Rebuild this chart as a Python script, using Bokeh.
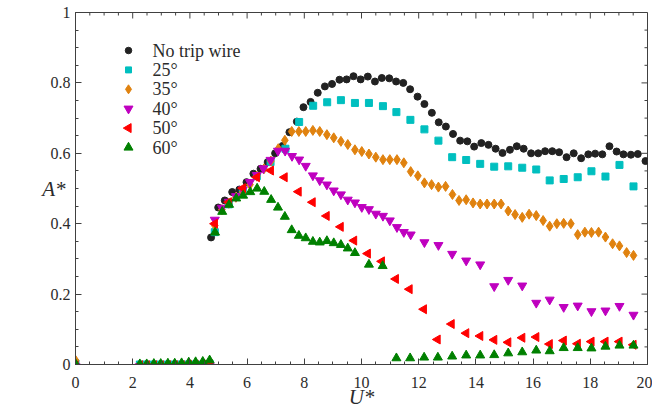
import math
from bokeh.plotting import figure
from bokeh.models import Range1d, FixedTicker, ColumnDataSource
from bokeh.core.properties import value
from bokeh.embed import file_html
from bokeh.resources import INLINE

# ---------------- data ----------------
zero_x = [0, 2.25, 2.49, 2.74, 2.98, 3.23, 3.47, 3.71, 3.96, 4.20, 4.45, 4.69]

notrip_x = [4.74, 4.99, 5.22, 5.48, 5.73, 5.98, 6.22, 6.47, 6.72, 6.98, 7.24, 7.48, 7.74, 7.97, 8.22,
            8.47, 8.72, 8.97, 9.23, 9.48, 9.72, 9.97, 10.22, 10.47, 10.71, 10.97, 11.21, 11.46, 11.70,
            11.96, 12.20, 12.46, 12.70, 12.95, 13.20, 13.45, 13.70, 13.94, 14.19, 14.44, 14.69, 14.93,
            15.19, 15.43, 15.67, 15.93, 16.18, 16.42, 16.67, 16.91, 17.17, 17.42, 17.68, 17.93, 18.17,
            18.42, 18.67, 18.92, 19.16, 19.42, 19.66, 19.93]
notrip_y = [0.361, 0.446, 0.466, 0.490, 0.497, 0.518, 0.542, 0.556, 0.575, 0.600, 0.621, 0.660, 0.690,
            0.731, 0.746, 0.772, 0.790, 0.797, 0.809, 0.810, 0.819, 0.810, 0.818, 0.804, 0.814, 0.813,
            0.804, 0.800, 0.782, 0.761, 0.740, 0.715, 0.688, 0.676, 0.655, 0.636, 0.634, 0.619, 0.629,
            0.624, 0.613, 0.601, 0.610, 0.620, 0.613, 0.600, 0.600, 0.606, 0.606, 0.603, 0.589, 0.600,
            0.586, 0.597, 0.599, 0.597, 0.620, 0.605, 0.597, 0.596, 0.598, 0.578]
notrip_zero = [0, 0, 0, 0, 0, 0, 0, 0, 0, 0, 0, 0]

deg25_x = [4.87, 5.36, 5.85, 6.34, 6.82, 7.34, 7.82, 8.31, 8.80, 9.28, 9.77, 10.26, 10.75, 11.22, 11.71,
           12.20, 12.69, 13.17, 13.66, 14.15, 14.64, 15.13, 15.62, 16.11, 16.58, 17.07, 17.56, 18.04,
           18.53, 19.02, 19.51]
deg25_y = [0.376, 0.455, 0.495, 0.535, 0.575, 0.613, 0.689, 0.735, 0.745, 0.751, 0.743, 0.743, 0.734,
           0.717, 0.695, 0.668, 0.636, 0.589, 0.581, 0.570, 0.562, 0.563, 0.559, 0.554, 0.523, 0.527,
           0.532, 0.549, 0.534, 0.567, 0.506]
deg25_zero = [0.003, 0, 0, 0, 0, 0, 0, 0, 0, 0, 0, 0.002]

deg35_x = [4.87, 5.12, 5.36, 5.61, 5.85, 6.10, 6.34, 6.59, 6.83, 7.09, 7.32, 7.56, 7.81, 8.05, 8.30, 8.54,
           8.79, 9.03, 9.28, 9.52, 9.77, 10.01, 10.26, 10.50, 10.75, 10.99, 11.24, 11.48, 11.72, 11.97,
           12.20, 12.45, 12.69, 12.94, 13.18, 13.41, 13.66, 13.90, 14.15, 14.39, 14.64, 14.88, 15.13,
           15.37, 15.62, 15.86, 16.11, 16.35, 16.58, 16.83, 17.07, 17.32, 17.56, 17.81, 18.04, 18.29,
           18.53, 18.78, 19.02, 19.27, 19.51]
deg35_y = [0.395, 0.440, 0.458, 0.475, 0.490, 0.511, 0.535, 0.556, 0.578, 0.613, 0.637, 0.662, 0.662,
           0.662, 0.665, 0.662, 0.653, 0.644, 0.634, 0.625, 0.610, 0.605, 0.598, 0.589, 0.582, 0.582,
           0.582, 0.573, 0.548, 0.536, 0.516, 0.511, 0.504, 0.506, 0.483, 0.466, 0.468, 0.459, 0.456,
           0.456, 0.456, 0.456, 0.436, 0.426, 0.418, 0.427, 0.423, 0.409, 0.393, 0.400, 0.401, 0.400,
           0.369, 0.376, 0.375, 0.376, 0.362, 0.343, 0.337, 0.318, 0.310]
deg35_zero = [0.012, -0.004, -0.004, -0.004, -0.004, -0.004, -0.004, -0.004, -0.003, -0.003, -0.003, -0.002]

deg40_x = [4.87, 5.12, 5.36, 5.61, 5.85, 6.10, 6.34, 6.57, 6.82, 7.08, 7.33, 7.57, 7.82, 8.05, 8.30, 8.54,
           8.79, 9.03, 9.28, 9.52, 9.77, 10.01, 10.26, 10.50, 10.75, 10.99, 11.24, 11.48, 11.72, 12.20,
           12.69, 13.17, 13.66, 14.15, 14.64, 15.13, 15.62, 16.11, 16.58, 17.07, 17.56, 18.04, 18.53,
           19.02, 19.51]
deg40_y = [0.411, 0.445, 0.462, 0.478, 0.497, 0.518, 0.538, 0.557, 0.581, 0.607, 0.607, 0.592, 0.582,
           0.564, 0.537, 0.523, 0.511, 0.494, 0.483, 0.468, 0.460, 0.447, 0.441, 0.428, 0.422, 0.409,
           0.390, 0.376, 0.369, 0.347, 0.339, 0.314, 0.295, 0.284, 0.222, 0.240, 0.224, 0.175, 0.184,
           0.163, 0.167, 0.151, 0.153, 0.166, 0.141]
deg40_zero = [-0.005, -0.005, -0.005, -0.005, -0.005, -0.005, -0.005, -0.005, -0.004, -0.004, -0.004, -0.003]

deg50_x = [4.87, 5.36, 5.85, 6.34, 6.83, 7.31, 7.80, 8.29, 8.78, 9.27, 9.74, 10.22, 10.71, 11.20, 11.68,
           12.18, 12.66, 13.15, 13.66, 14.15, 14.64, 15.13, 15.62, 16.11, 16.58, 17.07, 17.56, 18.04,
           18.53, 19.02, 19.51]
deg50_y = [0.400, 0.461, 0.501, 0.532, 0.551, 0.532, 0.491, 0.461, 0.422, 0.391, 0.352, 0.315, 0.293,
           0.243, 0.214, 0.157, 0.071, 0.115, 0.089, 0.081, 0.070, 0.063, 0.076, 0.078, 0.058, 0.068,
           0.059, 0.065, 0.065, 0.065, 0.056]
deg50_zero = [-0.003, -0.002, -0.002, -0.002, -0.002, -0.002, -0.002, -0.002, -0.001, -0.001, 0.0, 0.001]

deg60_x = [4.88, 5.13, 5.37, 5.62, 5.86, 6.11, 6.35, 6.60, 6.84, 7.08, 7.32, 7.56, 7.81, 8.05, 8.30, 8.54,
           8.79, 9.03, 9.28, 9.52, 9.77, 10.26, 10.74, 11.22, 11.70, 12.19, 12.67, 13.17, 13.66, 14.15,
           14.64, 15.13, 15.62, 16.11, 16.58, 17.07, 17.56, 18.04, 18.53, 19.02, 19.51]
deg60_y = [0.375, 0.434, 0.454, 0.472, 0.480, 0.490, 0.500, 0.491, 0.468, 0.446, 0.420, 0.382, 0.366,
           0.359, 0.349, 0.347, 0.351, 0.345, 0.340, 0.330, 0.317, 0.284, 0.280, 0.018, 0.018, 0.020,
           0.020, 0.023, 0.026, 0.026, 0.027, 0.032, 0.035, 0.040, 0.038, 0.047, 0.047, 0.046, 0.051,
           0.054, 0.054]
deg60_zero = [0.002, 0.001, 0.001, 0.002, 0.002, 0.003, 0.003, 0.004, 0.006, 0.007, 0.008, 0.012]

series_labels = ["No trip wire", "25°", "35°", "40°", "50°", "60°"]

x_ticks = [0, 2, 4, 6, 8, 10, 12, 14, 16, 18, 20]
y_ticks = [0, 0.2, 0.4, 0.6, 0.8, 1]
y_tick_labels = ["0", "0.2", "0.4", "0.6", "0.8", "1"]

# ---------------- figure ----------------
FONT = "Liberation Serif"
AX = "#404040"
TXT = "#2b2b2b"

W, H = 652, 415
ML, MR, MT, MB = 75, 5, 12, 51
FW, FH = W - ML - MR, H - MT - MB

p = figure(width=W, height=H, output_backend="svg", toolbar_location=None,
           x_range=Range1d(0, 20), y_range=Range1d(0, 1),
           min_border_left=ML, min_border_right=MR, min_border_top=MT, min_border_bottom=MB,
           x_axis_label="U*", y_axis_label="A*")
p.grid.visible = False
p.outline_line_color = AX
p.outline_line_width = 1
p.background_fill_color = "white"
p.border_fill_color = "white"

x_minor = [v * 0.5 for v in range(41)]
y_minor = [round(v * 0.05, 2) for v in range(21)]

for ax in (p.xaxis[0], p.yaxis[0]):
    ax.axis_line_color = AX
    ax.major_tick_line_color = AX
    ax.minor_tick_line_color = AX
    ax.major_tick_in = 6
    ax.major_tick_out = 0
    ax.minor_tick_in = 3
    ax.minor_tick_out = 0
    ax.major_label_text_font = FONT
    ax.major_label_text_font_size = "16px"
    ax.major_label_text_color = TXT
    ax.axis_label_text_font = FONT
    ax.axis_label_text_font_size = "21px"
    ax.axis_label_text_font_style = "italic"
    ax.axis_label_text_color = TXT

p.xaxis[0].ticker = FixedTicker(ticks=x_ticks, minor_ticks=x_minor)
p.yaxis[0].ticker = FixedTicker(ticks=y_ticks, minor_ticks=y_minor)
p.yaxis[0].major_label_overrides = {t: s for t, s in zip(y_ticks, y_tick_labels)}
p.xaxis[0].major_label_standoff = 12
p.xaxis[0].axis_label_standoff = -6
p.yaxis[0].major_label_standoff = 5
p.yaxis[0].axis_label_orientation = "horizontal"
p.yaxis[0].axis_label_standoff = -18

# inward ticks on the top and right edges of the box
x_minor_only = [m for m in x_minor if m not in x_ticks]
y_minor_only = [m for m in y_minor if m not in y_ticks]
p.ray(x=x_ticks, y=[1] * len(x_ticks), length=6, length_units="screen",
      angle=-math.pi / 2, line_color=AX, line_width=1)
p.ray(x=x_minor_only, y=[1] * len(x_minor_only), length=3, length_units="screen",
      angle=-math.pi / 2, line_color=AX, line_width=1)
p.ray(x=[20] * len(y_ticks), y=y_ticks, length=6, length_units="screen",
      angle=math.pi, line_color=AX, line_width=1)
p.ray(x=[20] * len(y_minor_only), y=y_minor_only, length=3, length_units="screen",
      angle=math.pi, line_color=AX, line_width=1)

styles = [
    dict(marker="circle", size=7, color="#222222", angle=0.0, lsize=6.5),
    dict(marker="square", size=7, color="#00bfbf", angle=0.0, lsize=6),
    dict(marker="diamond", size=10, color="#e0820f", angle=0.0, lsize=9),
    dict(marker="inverted_triangle", size=9, color="#bf00bf", angle=0.0, lsize=9),
    dict(marker="triangle", size=9, color="#ff0000", angle=math.pi / 2, lsize=9),
    dict(marker="triangle", size=9, color="#008000", angle=0.0, lsize=9),
]
xs = [notrip_x, deg25_x, deg35_x, deg40_x, deg50_x, deg60_x]
ys = [notrip_y, deg25_y, deg35_y, deg40_y, deg50_y, deg60_y]
zs = [notrip_zero, deg25_zero, deg35_zero, deg40_zero, deg50_zero, deg60_zero]

for st, x, y, z in zip(styles, xs, ys, zs):
    src = ColumnDataSource(dict(x=zero_x + x, y=z + y))
    p.scatter("x", "y", source=src, marker=st["marker"], size=st["size"],
              fill_color=st["color"], line_color=st["color"], angle=st["angle"])

# ---------------- legend (drawn in frame-pixel coordinates) ----------------
p.extra_x_ranges = {"px": Range1d(0, FW)}
p.extra_y_ranges = {"px": Range1d(FH, 0)}
LEG_X, LEG_Y0, LEG_DY, LEG_TXT = 53, 38, 19.4, 77
for i, (lab, st) in enumerate(zip(series_labels, styles)):
    yy = LEG_Y0 + LEG_DY * i
    p.scatter(x=[LEG_X], y=[yy], marker=st["marker"], size=st["lsize"], angle=st["angle"],
              fill_color=st["color"], line_color=st["color"],
              x_range_name="px", y_range_name="px")
    p.text(x=[LEG_TXT], y=[yy], text=[lab], text_font=value(FONT), text_font_size="18px",
           text_baseline="middle", text_align="left", text_color=TXT,
           x_range_name="px", y_range_name="px")

open("out.html", "w").write(file_html(p, INLINE))
